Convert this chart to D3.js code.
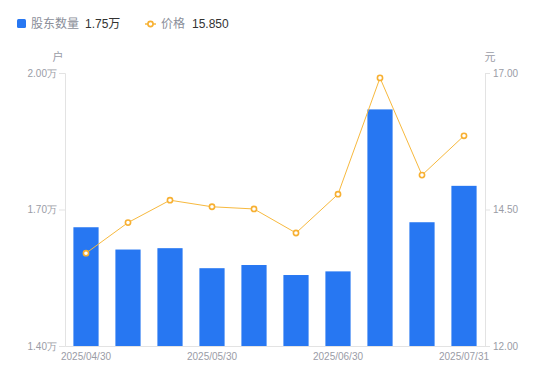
<!DOCTYPE html>
<html><head><meta charset="utf-8">
<script src="https://cdn.jsdelivr.net/npm/d3@7/dist/d3.min.js"></script>
<style>
body{margin:0;background:#fff;}
svg{font-family:"Liberation Sans","Noto Sans CJK SC",sans-serif;}
</style></head>
<body><svg id="c" width="550" height="381"></svg>
<script>
const categories = ["2025/04/30","2025/05/09","2025/05/20","2025/05/30","2025/06/10","2025/06/20","2025/06/30","2025/07/10","2025/07/18","2025/07/31"];
const holders = [1.661, 1.612, 1.615, 1.571, 1.578, 1.556, 1.564, 1.920, 1.672, 1.752]; // 万户
const prices = [13.70, 14.26, 14.67, 14.55, 14.51, 14.07, 14.78, 16.91, 15.13, 15.85];
const leftTicks = [1.40, 1.70, 2.00];
const rightTicks = [12.00, 14.50, 17.00];
const shownLabels = ["2025/04/30","2025/05/30","2025/06/30","2025/07/31"];

const svg = d3.select("#c");
const L = 65, R = 485, T = 73, B = 346;
const x = d3.scaleBand().domain(categories).range([L, R]).paddingInner(0.4).paddingOuter(0.2);
const yL = d3.scaleLinear().domain([1.40, 2.00]).range([B, T]);
const yR = d3.scaleLinear().domain([12, 17]).range([B, T]);
const axisColor = "#e3e3e3", labelColor = "#9a9ca6";

// axes
const gl = svg.append("g").attr("transform", `translate(${L},0)`)
  .call(d3.axisLeft(yL).tickValues(leftTicks).tickSize(6).tickPadding(2).tickFormat(d => d3.format(".2f")(d) + "万"));
const gr = svg.append("g").attr("transform", `translate(${R},0)`)
  .call(d3.axisRight(yR).tickValues(rightTicks).tickSize(5).tickPadding(3).tickFormat(d3.format(".2f")));
const gb = svg.append("g").attr("transform", `translate(0,${B})`)
  .call(d3.axisBottom(x).tickValues(shownLabels).tickSize(0).tickPadding(7));
[gl, gr, gb].forEach(g => {
  g.selectAll("path").attr("stroke", axisColor);
  g.selectAll("line").attr("stroke", axisColor);
  g.selectAll("text").attr("fill", labelColor).style("font-size", "10px");
});

// units
svg.append("text").attr("x", 58).attr("y", 61).attr("text-anchor", "middle").attr("fill", labelColor).style("font-size", "11px").text("户");
svg.append("text").attr("x", 490).attr("y", 61).attr("text-anchor", "middle").attr("fill", labelColor).style("font-size", "11px").text("元");

// bars
svg.append("g").selectAll("rect").data(holders).join("rect")
  .attr("x", (d, i) => x(categories[i]))
  .attr("width", x.bandwidth())
  .attr("y", d => yL(d))
  .attr("height", d => B - yL(d))
  .attr("fill", "#2777f2");

// line
const line = d3.line().x((d, i) => x(categories[i]) + x.bandwidth() / 2).y(d => yR(d));
svg.append("path").datum(prices).attr("d", line).attr("fill", "none").attr("stroke", "#f7b93e").attr("stroke-width", 1);
svg.append("g").selectAll("circle").data(prices).join("circle")
  .attr("cx", (d, i) => x(categories[i]) + x.bandwidth() / 2)
  .attr("cy", d => yR(d))
  .attr("r", 2.6)
  .attr("fill", "#fff").attr("stroke", "#f7b032").attr("stroke-width", 1.6);

// legend
const lg = svg.append("g").style("font-size", "12px");
lg.append("rect").attr("x", 17).attr("y", 19).attr("width", 9).attr("height", 9).attr("rx", 1.5).attr("fill", "#2777f2");
lg.append("text").attr("x", 31).attr("y", 28).attr("fill", "#8a8e99").text("股东数量");
lg.append("text").attr("x", 85).attr("y", 28).attr("fill", "#333").text(d3.format(".2f")(holders[holders.length - 1]) + "万");
lg.append("line").attr("x1", 145).attr("x2", 156).attr("y1", 24).attr("y2", 24).attr("stroke", "#f7b93e").attr("stroke-width", 1.5);
lg.append("circle").attr("cx", 150.5).attr("cy", 24).attr("r", 2.6).attr("fill", "#fff").attr("stroke", "#f7b032").attr("stroke-width", 1.6);
lg.append("text").attr("x", 161).attr("y", 28).attr("fill", "#8a8e99").text("价格");
lg.append("text").attr("x", 192).attr("y", 28).attr("fill", "#333").text(d3.format(".3f")(prices[prices.length - 1]));
</script></body></html>
